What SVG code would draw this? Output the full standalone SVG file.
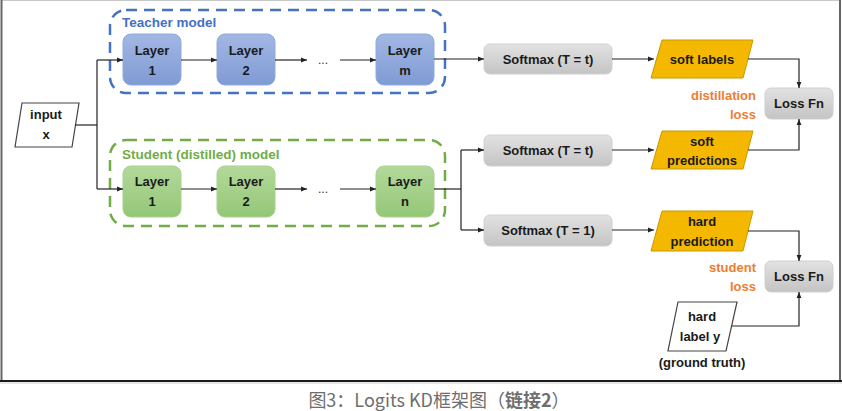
<svg xmlns="http://www.w3.org/2000/svg" width="842" height="411" viewBox="0 0 842 411">
<defs>
<linearGradient id="gBlue" x1="0" y1="0" x2="0" y2="1"><stop offset="0" stop-color="#a3b7e4"/><stop offset="1" stop-color="#7f9bd4"/></linearGradient>
<linearGradient id="gGreen" x1="0" y1="0" x2="0" y2="1"><stop offset="0" stop-color="#b3d99b"/><stop offset="1" stop-color="#94c777"/></linearGradient>
<linearGradient id="gGray" x1="0" y1="0" x2="0" y2="1"><stop offset="0" stop-color="#e2e2e2"/><stop offset="1" stop-color="#c4c4c4"/></linearGradient>
<marker id="arr" viewBox="0 0 10 10" refX="10" refY="5" markerWidth="6" markerHeight="6" orient="auto" markerUnits="userSpaceOnUse"><path d="M0,1 L10,5 L0,9 z" fill="#222"/></marker>
</defs>
<style>
.t{font-family:"Liberation Sans",Arial,sans-serif;font-weight:bold;font-size:13px;fill:#1a1a1a;text-anchor:middle}
.lbl{font-family:"Liberation Sans",Arial,sans-serif;font-weight:bold;font-size:13.5px;text-anchor:start}
.or{font-family:"Liberation Sans",Arial,sans-serif;font-weight:bold;font-size:13px;fill:#ed7d31;text-anchor:end}
.dots{font-family:"Liberation Sans",Arial,sans-serif;font-size:12px;fill:#333;text-anchor:middle}
.tl{fill:url(#gBlue);stroke:#8eaadb;stroke-width:1}
.sl{fill:url(#gGreen);stroke:#a9d18e;stroke-width:1}
.sm{fill:url(#gGray);stroke:#d0d0d0;stroke-width:1}
.pg{fill:#f5b800;stroke:#c99700;stroke-width:1}
.io{fill:#fff;stroke:#444;stroke-width:1.2}
.c{fill:none;stroke:#222;stroke-width:1.2}
.ca{fill:none;stroke:#222;stroke-width:1.2;marker-end:url(#arr)}
.dash{fill:none;stroke-width:2.5;stroke-dasharray:11 7}
</style>
<rect x="0" y="0" width="842" height="411" fill="#fff"/>
<!-- frame -->
<line x1="1" y1="0.5" x2="840" y2="0.5" stroke="#c8c8c8" stroke-width="1"/>
<line x1="1.5" y1="0" x2="1.5" y2="381" stroke="#666" stroke-width="2"/>
<line x1="840" y1="0" x2="840" y2="381" stroke="#666" stroke-width="2"/>
<line x1="0" y1="381" x2="842" y2="381" stroke="#1a1a1a" stroke-width="2"/>
<line x1="0" y1="383" x2="842" y2="383" stroke="#ccc" stroke-width="1"/>

<g id="teacher-group">
<rect class="dash" x="110" y="10" width="335" height="83" rx="16" stroke="#4472c4"/>
<text class="lbl" x="122" y="27" fill="#4472c4">Teacher model</text>
</g>
<g id="student-group">
<rect class="dash" x="110" y="140" width="335" height="86" rx="16" stroke="#70ad47"/>
<text class="lbl" x="122" y="159" fill="#70ad47">Student (distilled) model</text>
</g>

<g id="input">
<polygon class="io" points="22,103 79,103 72,147 15,147"/>
<text class="t" x="46" y="119">input</text>
<text class="t" x="46" y="139">x</text>
</g>

<g id="t1"><rect class="tl" x="123" y="34" width="58" height="51" rx="8"/><text class="t" x="152" y="55">Layer</text><text class="t" x="152" y="75">1</text></g>
<g id="t2"><rect class="tl" x="217" y="34" width="58" height="51" rx="8"/><text class="t" x="246" y="55">Layer</text><text class="t" x="246" y="75">2</text></g>
<g id="tm"><rect class="tl" x="376" y="34" width="58" height="51" rx="8"/><text class="t" x="405" y="55">Layer</text><text class="t" x="405" y="75">m</text></g>
<text class="dots" x="323" y="64">...</text>

<g id="s1"><rect class="sl" x="123" y="166" width="58" height="51" rx="8"/><text class="t" x="152" y="186">Layer</text><text class="t" x="152" y="206">1</text></g>
<g id="s2"><rect class="sl" x="217" y="166" width="58" height="51" rx="8"/><text class="t" x="246" y="186">Layer</text><text class="t" x="246" y="206">2</text></g>
<g id="sn"><rect class="sl" x="376" y="166" width="58" height="51" rx="8"/><text class="t" x="405" y="186">Layer</text><text class="t" x="405" y="206">n</text></g>
<text class="dots" x="323" y="193">...</text>

<g id="softmax1"><rect class="sm" x="484" y="44" width="128" height="30" rx="6"/><text class="t" x="548" y="64">Softmax (T = t)</text></g>
<g id="softmax2"><rect class="sm" x="484" y="135" width="128" height="31" rx="6"/><text class="t" x="548" y="155">Softmax (T = t)</text></g>
<g id="softmax3"><rect class="sm" x="484" y="215" width="128" height="31" rx="6"/><text class="t" x="548" y="235">Softmax (T = 1)</text></g>

<g id="softlabels"><polygon class="pg" points="662,40 753,40 743,78 651,78"/><text class="t" x="702" y="64">soft labels</text></g>
<g id="softpred"><polygon class="pg" points="662,131 753,131 743,169 651,169"/><text class="t" x="702" y="146">soft</text><text class="t" x="702" y="165">predictions</text></g>
<g id="hardpred"><polygon class="pg" points="662,211 753,211 743,251 651,251"/><text class="t" x="702" y="226">hard</text><text class="t" x="702" y="246">prediction</text></g>

<g id="loss1"><rect class="sm" x="765" y="88" width="68" height="31" rx="6"/><text class="t" x="799" y="108">Loss Fn</text></g>
<g id="loss2"><rect class="sm" x="765" y="261" width="68" height="31" rx="6"/><text class="t" x="799" y="281">Loss Fn</text></g>

<g id="distill-label"><text class="or" x="756" y="100">distillation</text><text class="or" x="756" y="119">loss</text></g>
<g id="student-label"><text class="or" x="756" y="272">student</text><text class="or" x="756" y="291">loss</text></g>

<g id="hardlabel">
<polygon class="io" points="678,302 737,302 726,351 668,351"/>
<text class="t" x="702" y="321">hard</text>
<text class="t" x="700" y="341">label y</text>
<text class="t" x="702" y="367">(ground truth)</text>
</g>

<g id="connectors">
<polyline class="c" points="75,125 97,125"/>
<line class="c" x1="97" y1="60" x2="97" y2="189"/>
<line class="ca" x1="97" y1="60" x2="123" y2="60"/>
<line class="ca" x1="97" y1="189" x2="123" y2="189"/>
<line class="ca" x1="181" y1="60" x2="217" y2="60"/>
<line class="ca" x1="275" y1="60" x2="307" y2="60"/>
<line class="ca" x1="340" y1="60" x2="376" y2="60"/>
<line class="ca" x1="434" y1="59" x2="484" y2="59"/>
<line class="ca" x1="181" y1="189" x2="217" y2="189"/>
<line class="ca" x1="275" y1="189" x2="307" y2="189"/>
<line class="ca" x1="340" y1="189" x2="376" y2="189"/>
<line class="c" x1="434" y1="189" x2="461" y2="189"/>
<line class="c" x1="461" y1="150" x2="461" y2="230"/>
<line class="ca" x1="461" y1="150" x2="484" y2="150"/>
<line class="ca" x1="461" y1="230" x2="484" y2="230"/>
<line class="ca" x1="612" y1="59" x2="654" y2="59"/>
<line class="ca" x1="612" y1="150" x2="654" y2="150"/>
<line class="ca" x1="612" y1="230" x2="654" y2="230"/>
<polyline class="ca" points="748,59 799,59 799,88"/>
<polyline class="ca" points="748,150 799,150 799,119"/>
<polyline class="ca" points="748,231 799,231 799,261"/>
<polyline class="ca" points="732,326 799,326 799,292"/>
</g>

<text x="439" y="407" text-anchor="middle" font-family="'Noto Sans CJK SC',sans-serif" font-size="18" fill="#6e6e6e">图3：Logits KD框架图（<tspan font-weight="bold">链接2</tspan>）</text>
</svg>
